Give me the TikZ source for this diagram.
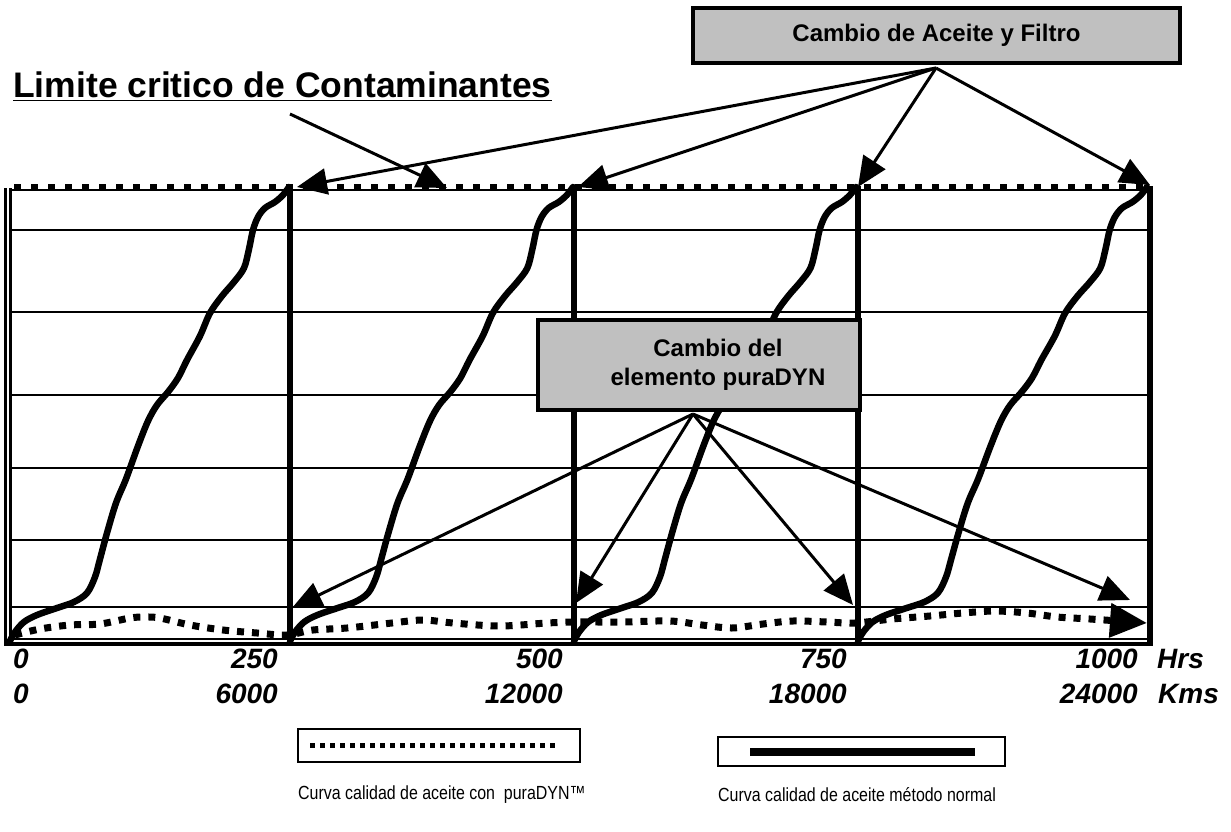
\documentclass[tikz,border=0pt]{standalone}
\usepackage{fontspec}
\usepackage{graphicx}
\setmainfont{Liberation Sans}
\usetikzlibrary{arrows.meta}
\definecolor{boxgrey}{RGB}{192,192,192}

\begin{document}
\begin{tikzpicture}[
  x=1pt, y=-1pt,
  greybox/.style={rectangle, draw, line width=4pt, fill=boxgrey, font=\fontsize{24}{29}\selectfont\bfseries, align=center, inner sep=0pt},
  axislabel/.style={font=\fontsize{28}{32}\selectfont\bfseries\itshape, inner sep=0pt},
  legendtext/.style={font=\fontsize{19}{22}\selectfont, inner sep=0pt, anchor=west},
  legendbox/.style={rectangle, draw, line width=1.5pt, inner sep=0pt},
  callout/.style={line width=3pt, -{Triangle[length=30pt,width=26pt]}},
  gridline/.style={line width=1.5pt},
  divider/.style={line width=6pt},
  wear/.style={line width=6.5pt, line cap=round, line join=round},
  puradyn/.style={line width=7pt, dash pattern=on 7pt off 8pt}
]
\useasboundingbox (0,0) rectangle (1231,832);

% chart frame
\foreach \y in {230,312,395,468,540,607,639}
  \draw[gridline] (11,\y) -- (1150,\y);
\draw[gridline] (11,190) -- (1150,190);
\draw[line width=4pt] (4,643.5) -- (1152,643.5);
\draw[line width=2.5pt] (5.5,188) -- (5.5,645);
\draw[line width=2.5pt] (10.5,188) -- (10.5,641);
\draw[line width=7pt, dash pattern=on 7pt off 10pt] (14,187) -- (1150,187);
\foreach \x in {290,574,858,1150}
  \draw[divider] (\x,186) -- (\x,646);

% oil quality without puraDYN
\foreach \x/\w in {10/280,290/284,574/283,858/290}
  \draw[wear, shift={(\x,641)}, xscale=\w/280] plot[smooth, tension=0.55] coordinates {
    (0,0) (5,-9) (14,-19) (27,-26) (47,-33) (64,-39) (77,-48) (85,-64)
    (90,-82) (97,-108) (106,-138) (116,-162) (128,-195) (138,-220)
    (147,-236) (158,-249) (168,-263) (177,-281) (190,-305) (200,-328)
    (212,-345) (224,-359) (234,-373) (239,-392) (243,-411) (248,-424)
    (255,-433) (265,-439) (273,-446) (279,-454)};

% oil quality with puraDYN
\draw[puradyn, -{Triangle[length=37pt,width=33pt]}] plot[smooth, tension=0.55] coordinates {
  (15,635) (40,629) (70,625) (100,624) (130,618) (145,617) (160,618)
  (190,625) (223,630) (257,633) (287,635) (313,630) (347,628) (392,623)
  (423,620) (453,623) (500,626) (547,623) (577,622) (623,622) (670,621)
  (702,625) (732,628) (763,624) (793,621) (827,622) (855,623) (892,619)
  (930,616) (963,613) (995,611) (1027,613) (1057,617) (1090,619) (1147,623)};

% title and boxes
\node[font=\fontsize{35.5}{40}\selectfont\bfseries, anchor=base west, inner sep=0pt] (limtitle) at (13,98) {\underline{Limite critico de Contaminantes}};
\node[greybox, minimum width=487pt, minimum height=55pt] (oilbox) at (936.5,35.5) {Cambio de Aceite y Filtro};
\node[greybox, minimum width=322pt, minimum height=90pt] (pdbox) at (699,365) {\hspace*{38pt}Cambio del\\\hspace*{38pt}elemento puraDYN};

\coordinate (limfrom) at (290,114);
\coordinate (lim) at (447,188);
\coordinate (oilfrom) at (936,68);
\coordinate (oil1) at (297,187);
\coordinate (oil2) at (578,187);
\coordinate (oil3) at (858,187);
\coordinate (oil4) at (1150,185);
\coordinate (pdfrom) at (693,414);
\coordinate (pd1) at (292,608);
\coordinate (pd2) at (576,603);
\coordinate (pd3) at (853,605);
\coordinate (pd4) at (1130,600);

\draw[callout] (limfrom) -- (lim);
\foreach \t in {oil1,oil2,oil3,oil4}
  \draw[callout] (oilfrom) -- (\t);
\foreach \t in {pd1,pd2,pd3,pd4}
  \draw[callout] (pdfrom) -- (\t);

% axis
\node[axislabel, anchor=base west] (h0) at (13,668) {0};
\node[axislabel, anchor=base east] (h250) at (278,668) {250};
\node[axislabel, anchor=base east] (h500) at (563,668) {500};
\node[axislabel, anchor=base east] (h750) at (847,668) {750};
\node[axislabel, anchor=base east] (h1000) at (1138,668) {1000};
\node[axislabel, anchor=base west] (hrs) at (1157,668) {Hrs};
\node[axislabel, anchor=base west] (k0) at (13,703) {0};
\node[axislabel, anchor=base east] (k6000) at (278,703) {6000};
\node[axislabel, anchor=base east] (k12000) at (563,703) {12000};
\node[axislabel, anchor=base east] (k18000) at (847,703) {18000};
\node[axislabel, anchor=base east] (k24000) at (1138,703) {24000};
\node[axislabel, anchor=base west] (kms) at (1158,703) {Kms};

% legend
\node[legendbox, minimum width=282pt, minimum height=33pt] (leg1) at (439,745.5) {};
\draw[line width=5pt, dash pattern=on 5pt off 5pt] (310,745.5) -- (558,745.5);
\node[legendbox, minimum width=287pt, minimum height=29pt] (leg2) at (861.5,751.5) {};
\draw[line width=8pt] (750,751.5) -- (975,751.5);
\node[legendtext] (legtxt1) at (298,795) {\scalebox{0.84}[1]{Curva calidad de aceite con~ puraDYN™}};
\node[legendtext] (legtxt2) at (718,795) {\scalebox{0.84}[1]{Curva calidad de aceite método normal}};
\end{tikzpicture}
\end{document}
